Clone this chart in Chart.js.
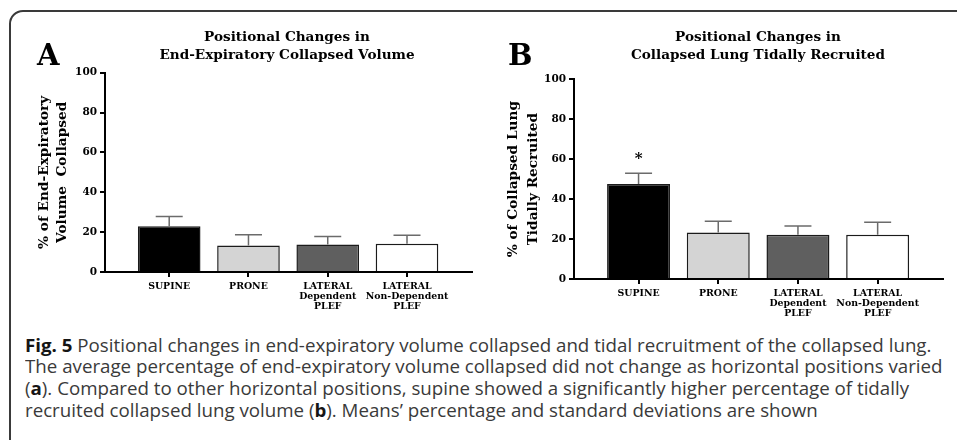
<!DOCTYPE html>
<html lang="en">
<head>
    <meta charset="UTF-8">
    <title>Fig. 5 Positional changes</title>
    <script src="https://cdn.jsdelivr.net/npm/chart.js"></script>
    <style>
        body {
            margin: 0;
            width: 957px;
            height: 440px;
            overflow: hidden;
            background: #fff;
            position: relative;
        }
        /* figure frame, only the top-left corner is visible */
        #frame {
            position: absolute;
            left: 9px;
            top: 10px;
            width: 1000px;
            height: 1000px;
            border: 2px solid #3a3a3a;
            border-radius: 14px;
        }
        .panel { position: absolute; top: 0; }
        .letter {
            position: absolute;
            top: 40.5px;
            font: bold 29px/29px "DejaVu Serif";
            color: #000;
        }
        .ttl {
            position: absolute;
            top: 27px;
            width: 400px;
            text-align: center;
            font: bold 13.6px/18px "DejaVu Serif";
            color: #000;
        }
        #caption {
            position: absolute;
            left: 25px;
            top: 334.5px;
            font: 18px/21.7px "Open Sans";
            color: #3a3a3a;
            white-space: nowrap;
            transform-origin: left top;
        }
        #caption b { font-weight: bold; color: #151515; }
    </style>
</head>
<body>
    <div id="frame"></div>

    <div class="panel" style="left:0"><canvas id="chartA" width="478" height="320"></canvas></div>
    <div class="panel" style="left:478px"><canvas id="chartB" width="479" height="320"></canvas></div>

    <div class="letter" style="left:37px">A</div>
    <div class="letter" style="left:508px">B</div>
    <div class="ttl" style="left:87px">Positional Changes in<br>End-Expiratory Collapsed Volume</div>
    <div class="ttl" style="left:558px">Positional Changes in<br>Collapsed Lung Tidally Recruited</div>

    <div id="caption">
        <div><span><b>Fig. 5</b> Positional changes in end-expiratory volume collapsed and tidal recruitment of the collapsed lung.</span></div>
        <div><span id="capRef">The average percentage of end-expiratory volume collapsed did not change as horizontal positions varied</span></div>
        <div><span>(<b>a</b>). Compared to other horizontal positions, supine showed a significantly higher percentage of tidally</span></div>
        <div><span>recruited collapsed lung volume (<b>b</b>). Means’ percentage and standard deviations are shown</span></div>
    </div>

    <script>
        // positions (x axis categories)
        const categories = [
            ['SUPINE'],
            ['PRONE'],
            ['LATERAL', 'Dependent', 'PLEF'],
            ['LATERAL', 'Non-Dependent', 'PLEF']
        ];
        const yTicks = [0, 20, 40, 60, 80, 100];

        // A: % of end-expiratory volume collapsed (mean, SD)
        const collapsedMean = [23.0, 13.3, 13.8, 14.2];
        const collapsedSD = [4.9, 5.4, 4.0, 4.3];

        // B: % of collapsed lung tidally recruited (mean, SD)
        const recruitedMean = [47.6, 23.3, 22.1, 22.1];
        const recruitedSD = [5.4, 5.6, 4.4, 6.3];
        const recruitedMarks = ['*', '', '', ''];

        const barColors = ['#000000', '#d4d4d4', '#5f5f5f', '#ffffff'];
        const serif = 'DejaVu Serif';

        // error bars (upper half only) and significance marks
        const errorBars = {
            id: 'errorBars',
            afterDatasetsDraw(chart, args, opts) {
                const { ctx, scales: { x, y } } = chart;
                const pts = chart.data.datasets[0].data;
                ctx.save();
                ctx.strokeStyle = '#6b6b6b';
                ctx.lineWidth = 1.5;
                pts.forEach((p, i) => {
                    const px = x.getPixelForValue(p.x);
                    const yBar = y.getPixelForValue(p.y);
                    const yTop = y.getPixelForValue(p.y + opts.sd[i]);
                    ctx.beginPath();
                    ctx.moveTo(px, yBar);
                    ctx.lineTo(px, yTop);
                    ctx.moveTo(px - 13.5, yTop);
                    ctx.lineTo(px + 13.5, yTop);
                    ctx.stroke();
                    const m = opts.marks && opts.marks[i];
                    if (m) {
                        ctx.fillStyle = '#000';
                        ctx.font = 'bold 15px "' + serif + '"';
                        ctx.textAlign = 'center';
                        ctx.textBaseline = 'alphabetic';
                        ctx.fillText(m, px, yTop - 10);
                    }
                });
                ctx.restore();
            }
        };

        function axisGrid() {
            return { drawOnChartArea: false, drawTicks: true, tickLength: 5, color: '#000', lineWidth: 2, offset: false };
        }

        function makeChart(id, means, sds, marks, o) {
            return new Chart(document.getElementById(id), {
                type: 'bar',
                data: {
                    datasets: [{
                        data: means.map((v, i) => ({ x: i, y: v })),
                        backgroundColor: barColors,
                        borderColor: '#1b1b1b',
                        borderWidth: 1.5,
                        categoryPercentage: 1,
                        barPercentage: 0.79
                    }]
                },
                options: {
                    responsive: false,
                    animation: false,
                    layout: { padding: { top: o.top, right: o.right, left: 0, bottom: 0 } },
                    plugins: {
                        legend: { display: false },
                        tooltip: { enabled: false },
                        errorBars: { sd: sds, marks: marks }
                    },
                    scales: {
                        x: {
                            type: 'linear',
                            min: -0.81,
                            max: 3.82,
                            offset: false,
                            afterBuildTicks: s => { s.ticks = categories.map((c, i) => ({ value: i })); },
                            afterFit: s => { s.height = o.xHeight; },
                            grid: axisGrid(),
                            border: { color: '#000', width: 2 },
                            ticks: {
                                autoSkip: false,
                                maxRotation: 0,
                                padding: 5,
                                color: '#000',
                                font: { family: serif, weight: 'bold', size: 9.4, lineHeight: '10px' },
                                callback: v => categories[v]
                            }
                        },
                        y: {
                            min: 0,
                            max: 100,
                            afterBuildTicks: s => { s.ticks = yTicks.map(v => ({ value: v })); },
                            afterFit: s => { s.width = o.yWidth; },
                            grid: axisGrid(),
                            border: { color: '#000', width: 2 },
                            ticks: {
                                padding: 3,
                                color: '#000',
                                font: { family: serif, weight: 'bold', size: 10.5 }
                            },
                            title: {
                                display: true,
                                text: o.yTitle,
                                color: '#000',
                                font: { family: serif, weight: 'bold', size: 13.7, lineHeight: o.yLine },
                                padding: { top: o.yTitlePad, bottom: 0 }
                            }
                        }
                    }
                },
                plugins: [errorBars]
            });
        }

        makeChart('chartA', collapsedMean, collapsedSD, null, {
            top: 72.7, right: 6, xHeight: 48, yWidth: 105,
            yTitle: ['% of End-Expiratory', 'Volume  Collapsed'], yLine: '18px', yTitlePad: 35
        });
        makeChart('chartB', recruitedMean, recruitedSD, recruitedMarks, {
            top: 79.3, right: 14, xHeight: 41, yWidth: 96,
            yTitle: ['% of Collapsed Lung', 'Tidally Recruited'], yLine: '20px', yTitlePad: 25
        });

        // caption set in a condensed width, like the journal layout
        const cap = document.getElementById('caption');
        const ref = document.getElementById('capRef');
        cap.style.transform = 'scaleX(' + (917 / ref.offsetWidth) + ')';
    </script>
</body>
</html>
